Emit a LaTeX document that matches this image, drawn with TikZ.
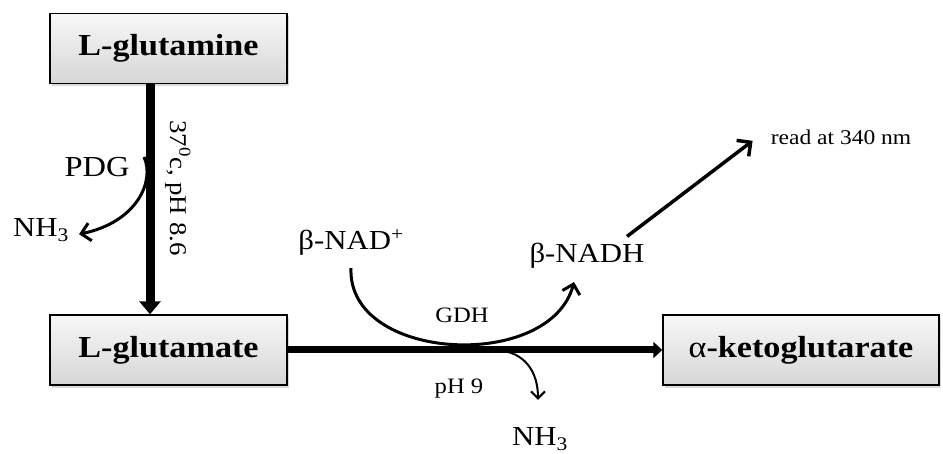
\documentclass[tikz,border=0pt]{standalone}
\usepackage{fontspec}
\setmainfont{Liberation Serif}[FakeStretch=1.12]
\usetikzlibrary{arrows.meta,shadows}

\begin{document}
\begin{tikzpicture}[x=1pt,y=-1pt,
  compound/.style={draw=black, line width=1.4pt, top color=gray!6, bottom color=gray!32,
    minimum width=237pt, minimum height=70pt,
    drop shadow={shadow xshift=2pt, shadow yshift=-3pt, opacity=0.3},
    font=\fontsize{30.5}{36}\selectfont\bfseries},
  species/.style={inner sep=1pt, anchor=base, font=\fontsize{27.5}{32}\selectfont},
  enzyme/.style={inner sep=1pt, anchor=base, font=\fontsize{22}{26}\selectfont},
  curvearrow/.style={line width=3pt, -{Straight Barb[length=9pt,width=18pt]}}]
\useasboundingbox (0,0) rectangle (943,454);

% the three compounds
\node [compound] (gln) at (168.5,48.5) {L-glutamine};
\node [compound] (glu) at (168.5,350) {L-glutamate};
\node [compound, minimum width=276pt] (akg) at (801,350) {{\mdseries α}-ketoglutarate};

% main reaction arrows
\coordinate (vx) at (150,0);
\draw [line width=9pt, -{Triangle[length=13pt,width=21pt]}] (gln.south -| vx) -- (glu.north -| vx);
\draw [line width=7pt, -{Triangle[length=9pt,width=16pt]}] (glu.east) -- (akg.west);

% first step
\node [species, anchor=center, rotate=-90, font=\fontsize{24}{28}\selectfont] (cond) at (178,188) {37\textsuperscript{0}c, pH 8.6};
\node [species, font=\fontsize{29}{34}\selectfont] (pdg) at (97,177) {PDG};
\node [species] (nh3a) at (41,237) {NH\textsubscript{3}};
\coordinate (cut) at (144,157);
\draw [curvearrow] (cut) .. controls +(11,24) and +(58,-12) .. ([xshift=9pt,yshift=-4pt]nh3a.east);

% second step
\node [species] (nad) at (351,250) {β-NAD\textsuperscript{+}};
\node [species] (nadh) at (587,263) {β-NADH};
\node [enzyme] (gdh) at (462,323) {GDH};
\node [enzyme] (ph) at (459,394) {pH 9};
\node [species] (nh3b) at (540,446) {NH\textsubscript{3}};
\node [enzyme, font=\fontsize{21}{25}\selectfont] (read) at (841,145) {read at 340 nm};
\draw [curvearrow] ([yshift=-11pt]nad.south) .. controls +(-4,94) and +(-24,90) .. ([xshift=-13pt,yshift=-12pt]nadh.south);
\coordinate (split) at (497,350);
\draw [line width=2pt, -{Straight Barb[length=7pt,width=14pt]}] (split) .. controls +(28,2) and +(0,-28) .. ([xshift=-2pt,yshift=27pt]nh3b.north);
\draw [line width=3.5pt, -{Straight Barb[length=10pt,width=20pt]}] ([xshift=40pt,yshift=6pt]nadh.north) -- ([xshift=-17pt,yshift=-3pt]read.west);
\end{tikzpicture}
\end{document}
